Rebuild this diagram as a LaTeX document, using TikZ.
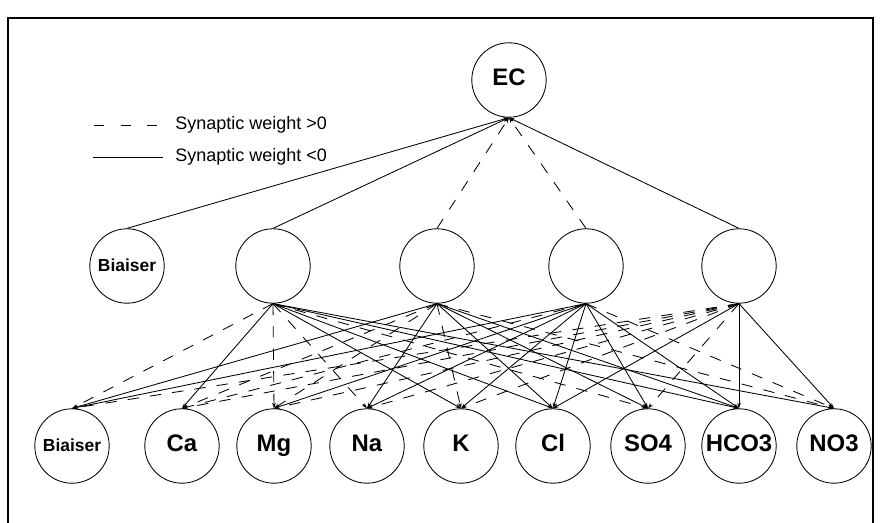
\documentclass[tikz,border=0pt]{standalone}
\usepackage{fontspec}
\setmainfont{Liberation Sans}
\usetikzlibrary{arrows.meta}

\begin{document}
\begin{tikzpicture}[
  x=0.025cm, y=-0.025cm,
  %% ── node styles ────────────────────────────────────────────────────
  %% Neurons (layers of the network)
  neuron/.style={circle, draw, line width=0.6pt, minimum size=1.86cm,
                 inner sep=0pt, text height=0.72em, text depth=0pt,
                 font=\bfseries\fontsize{17}{17}\selectfont},
  %% Bias neurons, smaller label
  bias/.style={neuron, font=\bfseries\fontsize{12.4}{12.4}\selectfont},
  %% Legend text
  legend/.style={anchor=west, inner sep=0pt, font=\fontsize{12.8}{12.8}\selectfont},
  %% Synapses
  syn/.style={-{Stealth[length=4pt,width=2.6pt]}, line width=0.6pt},
  wpos/.style={syn, dash pattern=on 8pt off 8pt},
  wneg/.style={syn},
]

%% frame
\useasboundingbox (0,0) rectangle (884,523);
\draw[line width=0.8pt] (8,523) -- (8,18) -- (873,18) -- (873,523);

%% ════════════════════════════════════════════════════════════════════
%% OUTPUT LAYER
%% ════════════════════════════════════════════════════════════════════
\node[neuron] (ec) at (509,80) {EC};

%% Legend
\coordinate (lp1) at (94,125);  \coordinate (lp2) at (160,125);
\coordinate (ln1) at (93,157);  \coordinate (ln2) at (163,157);
\node[legend] (lgpos) at (175,125) {Synaptic weight >0};
\node[legend] (lgneg) at (175,157) {Synaptic weight <0};
\draw[line width=0.6pt, dash pattern=on 7pt off 12pt] (lp1) -- (lp2);
\draw[line width=0.6pt] (ln1) -- (ln2);

%% ════════════════════════════════════════════════════════════════════
%% HIDDEN LAYER  (y = 266)
%% ════════════════════════════════════════════════════════════════════
\node[bias]   (hb) at (127,266) {Biaiser};
\node[neuron] (h1) at (273,266) {};
\node[neuron] (h2) at (437,266) {};
\node[neuron] (h3) at (586,266) {};
\node[neuron] (h4) at (739,266) {};

\foreach \h/\s in {hb/wneg, h1/wneg, h2/wpos, h3/wpos, h4/wneg}
  \draw[\s] (\h.north) -- (ec.south);

%% ════════════════════════════════════════════════════════════════════
%% INPUT LAYER  (y = 446)
%% ════════════════════════════════════════════════════════════════════
\node[bias]   (ib)   at (72,446)  {Biaiser};
\node[neuron] (ca)   at (182,446) {Ca};
\node[neuron] (mg)   at (274,446) {Mg};
\node[neuron] (na)   at (367,446) {Na};
\node[neuron] (k)    at (461,446) {K};
\node[neuron] (cl)   at (553,446) {Cl};
\node[neuron] (so4)  at (648,446) {SO4};
\node[neuron] (hco3) at (739,446) {HCO3};
\node[neuron] (no3)  at (834,446) {NO3};

%% hidden -> input synapses
\foreach \i/\s in {ib/wpos, ca/wneg, mg/wpos, na/wpos, k/wneg,
                   cl/wneg, so4/wpos, hco3/wneg, no3/wneg}
  \draw[\s] (h1.south) -- (\i.north);
\foreach \i/\s in {ib/wneg, ca/wpos, mg/wpos, na/wneg, k/wpos,
                   cl/wneg, so4/wneg, hco3/wneg, no3/wpos}
  \draw[\s] (h2.south) -- (\i.north);
\foreach \i/\s in {ib/wneg, ca/wpos, mg/wneg, na/wneg, k/wneg,
                   cl/wneg, so4/wneg, hco3/wneg, no3/wpos}
  \draw[\s] (h3.south) -- (\i.north);
\foreach \i/\s in {ib/wpos, ca/wpos, mg/wpos, na/wpos, k/wpos,
                   cl/wneg, so4/wpos, hco3/wneg, no3/wneg}
  \draw[\s] (h4.south) -- (\i.north);

\end{tikzpicture}
\end{document}
